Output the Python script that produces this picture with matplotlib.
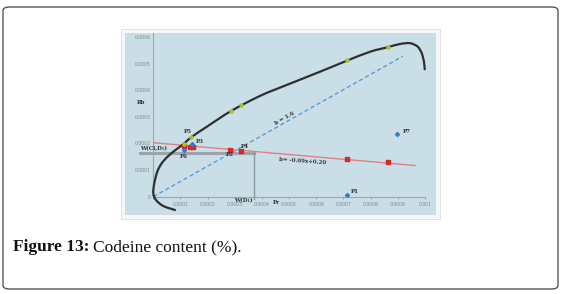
import numpy as np
import matplotlib
matplotlib.use("Agg")
import matplotlib.pyplot as plt
from matplotlib.patches import Rectangle, FancyBboxPatch, PathPatch
from matplotlib.path import Path

# ---- data ----
x_ticks = [0, 0.0001, 0.0002, 0.0003, 0.0004, 0.0005, 0.0006, 0.0007, 0.0008, 0.0009, 0.001]
x_tick_labels = ["", "0.0001", "0.0002", "0.0003", "0.0004", "0.0005", "0.0006", "0.0007", "0.0008", "0.0009", "0.001"]
y_ticks = [0, 0.0001, 0.0002, 0.0003, 0.0004, 0.0005, 0.0006]
y_tick_labels = ["0", "0.0001", "0.0002", "0.0003", "0.0004", "0.0005", "0.0006"]

green_x = [0.000112, 0.00014, 0.000287, 0.000322, 0.000712, 0.000863]
green_y = [0.000197, 0.000226, 0.000322, 0.000345, 0.000513, 0.000561]

red_x = [0.000112, 0.000136, 0.000145, 0.000283, 0.000322, 0.000712, 0.000863]
red_y = [0.00019, 0.000186, 0.000186, 0.000176, 0.000172, 0.000141, 0.000129]

blue_x = [0.000112, 0.000142, 0.000896, 0.000712]
blue_y = [0.000176, 0.000197, 0.000236, 0.0000075]

red_intercept = 0.000203
red_slope = -0.089
red_x_range = [0, 0.000963]

blue_slope = 0.575
blue_x_range = [0, 0.000918]

curve_x = [0.0000799, 0.0000368, 0.0000099, 0.0, 0.0000037, 0.0000147, 0.0000309, 0.0000552,
           0.0000861, 0.00011, 0.000139, 0.000197, 0.000286, 0.000393, 0.000491, 0.000614,
           0.000712, 0.000798, 0.000863, 0.000908, 0.000945, 0.000973, 0.000988, 0.000996, 0.000999]
curve_y = [-0.00005, -0.000035, -0.0000124, 0.0000128, 0.0000504, 0.000094, 0.0001256, 0.000153,
           0.000179, 0.000197, 0.000223, 0.000263, 0.000322, 0.000379, 0.00042, 0.00047,
           0.000511, 0.000545, 0.000562, 0.000574, 0.000577, 0.000564, 0.000539, 0.000508, 0.000479]

ref_y = 0.000166
ref_x = 0.000369

W, H = 562, 294
fig = plt.figure(figsize=(W / 100, H / 100), dpi=100)

def fx(x):
    return x / W

def fy(y):
    return 1 - y / H

# outer rounded box
fig.patches.append(FancyBboxPatch((fx(3), fy(289)), fx(555), (289 - 7) / H,
                                  boxstyle="round,pad=0,rounding_size=0.012",
                                  transform=fig.transFigure, facecolor="white",
                                  edgecolor="#555555", linewidth=1.0, zorder=-3))
# chart image frame
fig.patches.append(Rectangle((fx(121), fy(219)), (440 - 121) / W, (219 - 29) / H,
                             transform=fig.transFigure, facecolor="#f4f6f7",
                             edgecolor="#dddddd", linewidth=0.6, zorder=-2))
fig.patches.append(Rectangle((fx(125), fy(215)), (436 - 125) / W, (215 - 33) / H,
                             transform=fig.transFigure, facecolor="#c9dee6",
                             edgecolor="none", zorder=-1))

ax = fig.add_axes([fx(153.3), fy(196.7), 271.7 / W, 163.6 / H])
ax.set_zorder(5)
ax.set_facecolor("none")
ax.set_xlim(0, 0.001)
ax.set_ylim(0, 0.000615)
for s in ["top", "right"]:
    ax.spines[s].set_visible(False)
for s in ["left", "bottom"]:
    ax.spines[s].set_color("#9aa8ad")
    ax.spines[s].set_linewidth(0.8)
ax.set_xticks(x_ticks)
ax.set_xticklabels(x_tick_labels)
ax.set_yticks(y_ticks)
ax.set_yticklabels(y_tick_labels)
ax.tick_params(axis="both", labelsize=3.3, colors="#7d878b", length=1.5, width=0.5, pad=2)
ax.tick_params(axis="y", length=0)

# reference gray lines
ax.plot([-0.00005, ref_x], [ref_y, ref_y], color="#9aa5a9", lw=2.2, clip_on=False, zorder=2)
ax.plot([ref_x, ref_x], [ref_y, -0.00001], color="#8c979b", lw=1.0, clip_on=False, zorder=2)

# blue dashed line
bx = np.array(blue_x_range)
ax.plot(bx, blue_slope * bx, color="#5b9bd5", lw=1.0, ls=(0, (3, 2)), zorder=3)

# red line
rx = np.array(red_x_range)
ax.plot(rx, red_intercept + red_slope * rx, color="#e08080", lw=1.0, zorder=3)

# black curve: smooth Bezier path through the traced points (Catmull-Rom handles)
P = np.column_stack([curve_x, curve_y])
verts = [tuple(P[0])]
codes = [Path.MOVETO]
n = len(P)
for i in range(n - 1):
    p0 = P[i - 1] if i > 0 else P[i]
    p1 = P[i]
    p2 = P[i + 1]
    p3 = P[i + 2] if i + 2 < n else P[i + 1]
    c1 = p1 + (p2 - p0) / 6.0
    c2 = p2 - (p3 - p1) / 6.0
    verts += [tuple(c1), tuple(c2), tuple(p2)]
    codes += [Path.CURVE4, Path.CURVE4, Path.CURVE4]
ax.add_patch(PathPatch(Path(verts, codes), facecolor="none", edgecolor="#2f2f2f",
                       lw=1.6, clip_on=False, zorder=4, capstyle="round"))

# markers
ax.scatter(red_x, red_y, marker="s", s=9, color="#d42a2a", zorder=5)
ax.scatter(green_x, green_y, marker="o", s=5, color="#a8c02a", zorder=6)
ax.scatter(blue_x, blue_y, marker="D", s=4, color="#3a78c8", zorder=6)

lab = dict(fontsize=4.0, family="DejaVu Serif", fontweight="bold", color="#333333", zorder=7)
ax.text(0.000128, 0.000235, "P5", ha="center", va="bottom", **lab)
ax.text(0.00017, 0.000208, "P3", ha="center", va="center", **lab)
ax.text(0.000112, 0.00016, "P6", ha="center", va="top", **lab)
ax.text(0.000283, 0.000158, "P2", ha="center", va="center", **lab)
ax.text(0.000335, 0.000187, "P4", ha="center", va="center", **lab)
ax.text(0.00092, 0.000245, "P7", ha="left", va="center", **lab)
ax.text(0.000728, 0.00002, "P1", ha="left", va="center", **lab)
ax.text(-0.000048, 0.00017, "W(Cl,D\u2081)", ha="left", va="bottom", **lab)
ax.text(ref_x - 0.000002, -0.000004, "W(D\u2081)", ha="right", va="top", **lab)
ax.text(0.000452, -0.000022, "Pr", ha="center", va="center", **lab)
ax.text(-0.000045, 0.000355, "Rb", ha="center", va="center", **lab)
ax.text(0.000485, 0.000295, "b = 1.6", ha="center", va="center", rotation=30, **lab)
ax.text(0.00055, 0.000135, "b= -0.09x+0.20", ha="center", va="center", rotation=-4, **lab)

# caption
t1 = fig.text(fx(13), fy(247), "Figure 13:", fontsize=12.5, family="Liberation Serif",
              fontweight="bold", ha="left", va="center", color="#111111")
fig.canvas.draw()
bb = t1.get_window_extent(fig.canvas.get_renderer())
fig.text(bb.x1 / W + 4 / W, fy(247), "Codeine content (%).", fontsize=12.5,
         family="Liberation Serif", ha="left", va="center", color="#111111")

fig.savefig("out.png", dpi=100)
